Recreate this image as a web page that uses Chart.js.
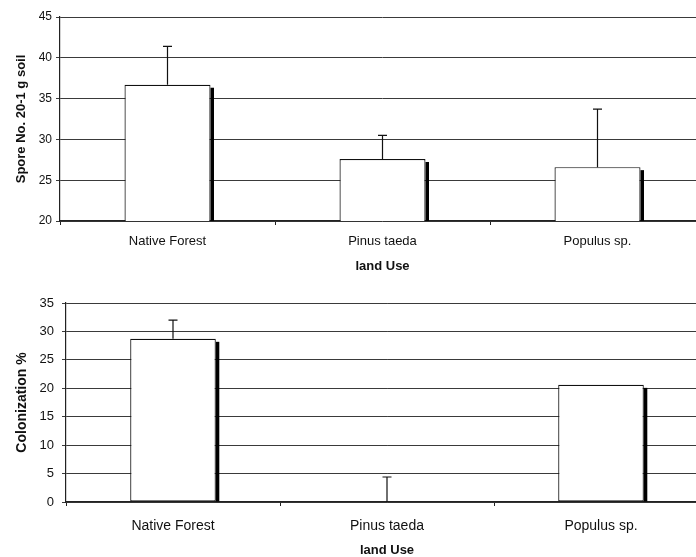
<!DOCTYPE html>
<html>
<head>
<meta charset="utf-8">
<script src="https://cdn.jsdelivr.net/npm/chart.js@4/dist/chart.umd.min.js"></script>
<style>
  html, body { margin: 0; padding: 0; background: #fff; overflow: hidden; width: 696px; height: 557px; }
  .box { position: absolute; left: 0; }
  #box-spore { top: 0; width: 705px; height: 275px; }
  #box-colon { top: 280px; width: 708px; height: 280px; }
</style>
</head>
<body>
<div class="box" id="box-spore"><canvas id="chart-spore"></canvas></div>
<div class="box" id="box-colon"><canvas id="chart-colon"></canvas></div>
<script>
// ── Datos ──────────────────────────────────────────────────────────────────
const landUse = ['Native Forest', 'Pinus taeda', 'Populus sp.'];
const sporeMean = [36.7, 27.6, 26.6];
const sporeErr  = [4.7, 2.9, 7.1];
const colonMean = [28.7, 0, 20.6];
const colonErr  = [3.3, 4.4, 0];
const sporeTicks = [20, 25, 30, 35, 40, 45];
const colonTicks = [0, 5, 10, 15, 20, 25, 30, 35];

const FONT = '"Liberation Sans", Arial, sans-serif';

// ── Sombra a la derecha de cada barra ──────────────────────────────────────
const barShadow = {
  id: 'barShadow',
  afterDatasetsDraw(chart) {
    const ctx = chart.ctx;
    const bottom = chart.chartArea.bottom;
    chart.getDatasetMeta(0).data.forEach(bar => {
      const { x, y, base, width } = bar.getProps(['x', 'y', 'base', 'width'], true);
      const b = Math.min(base, bottom);
      if (b - y < 2) return;
      const right = x + width / 2;
      ctx.save();
      ctx.fillStyle = '#000';
      ctx.fillRect(right, y + 3, 3.5, b - y - 3);
      ctx.restore();
    });
  }
};

// ── Barras de error (solo hacia arriba) ───────────────────────────────────
const errorBars = {
  id: 'errorBars',
  afterDatasetsDraw(chart, args, opts) {
    const ctx = chart.ctx;
    const yScale = chart.scales.y;
    const ds = chart.data.datasets[0];
    chart.getDatasetMeta(0).data.forEach((bar, i) => {
      const err = opts.errors[i];
      if (!err) return;
      const top = yScale.getPixelForValue(ds.data[i] + err);
      const from = yScale.getPixelForValue(ds.data[i]);
      ctx.save();
      ctx.strokeStyle = '#111';
      ctx.lineWidth = 1.2;
      ctx.beginPath();
      ctx.moveTo(bar.x, from);
      ctx.lineTo(bar.x, top);
      ctx.moveTo(bar.x - 4.5, top);
      ctx.lineTo(bar.x + 4.5, top);
      ctx.stroke();
      ctx.restore();
    });
  }
};

function makeChart(id, cfg) {
  const ctx = document.getElementById(id).getContext('2d');
  return new Chart(ctx, {
    type: 'bar',
    data: {
      labels: landUse,
      datasets: [{
        data: cfg.values,
        backgroundColor: '#fff',
        borderColor: '#111',
        borderWidth: 1.2,
        borderSkipped: false,
        categoryPercentage: 1,
        barPercentage: 0.4
      }]
    },
    options: {
      responsive: true,
      maintainAspectRatio: false,
      animation: false,
      layout: { padding: { top: cfg.padTop, left: 0, right: 0, bottom: 0 } },
      plugins: {
        legend: { display: false },
        tooltip: { enabled: false },
        errorBars: { errors: cfg.errors }
      },
      scales: {
        x: {
          grid: { drawOnChartArea: false, drawTicks: true, tickLength: 4, color: '#222', offset: true },
          border: { color: '#222', width: 1.2 },
          ticks: { color: '#111', font: { family: FONT, size: cfg.xFont }, padding: cfg.xPad, maxRotation: 0 },
          title: { display: true, text: 'land Use', color: '#111', font: { family: FONT, size: 13, weight: 'bold' }, padding: { top: 0, bottom: cfg.xTitlePad } },
          afterFit: s => { s.height = cfg.xHeight; }
        },
        y: {
          min: cfg.ticks[0],
          max: cfg.ticks[cfg.ticks.length - 1],
          afterBuildTicks: s => { s.ticks = cfg.ticks.map(v => ({ value: v })); },
          grid: { color: '#3a3a3a', lineWidth: 1, drawTicks: true, tickLength: 4 },
          border: { color: '#222', width: 1.2 },
          ticks: { color: '#111', font: { family: FONT, size: cfg.yFont }, padding: cfg.yPad },
          title: { display: true, text: cfg.yTitle, color: '#111', font: { family: FONT, size: cfg.yTitleFont, weight: 'bold' }, padding: { top: cfg.yTitlePad, bottom: 0 } },
          afterFit: s => { s.width = cfg.yWidth; }
        }
      }
    },
    plugins: [barShadow, errorBars]
  });
}

// ── Gráfica de esporas ─────────────────────────────────────────────────────
makeChart('chart-spore', {
  values: sporeMean, errors: sporeErr, ticks: sporeTicks,
  yTitle: 'Spore No. 20-1 g soil', yTitleFont: 13, yTitlePad: 14,
  padTop: 17, yWidth: 60, xHeight: 54,
  xFont: 13, yFont: 12, xPad: 9, yPad: 4, xTitlePad: 1
});

// ── Gráfica de colonización ────────────────────────────────────────────────
makeChart('chart-colon', {
  values: colonMean, errors: colonErr, ticks: colonTicks,
  yTitle: 'Colonization %', yTitleFont: 14, yTitlePad: 14,
  padTop: 23, yWidth: 66, xHeight: 58,
  xFont: 14, yFont: 13, xPad: 12, yPad: 8, xTitlePad: 2
});
</script>
</body>
</html>
